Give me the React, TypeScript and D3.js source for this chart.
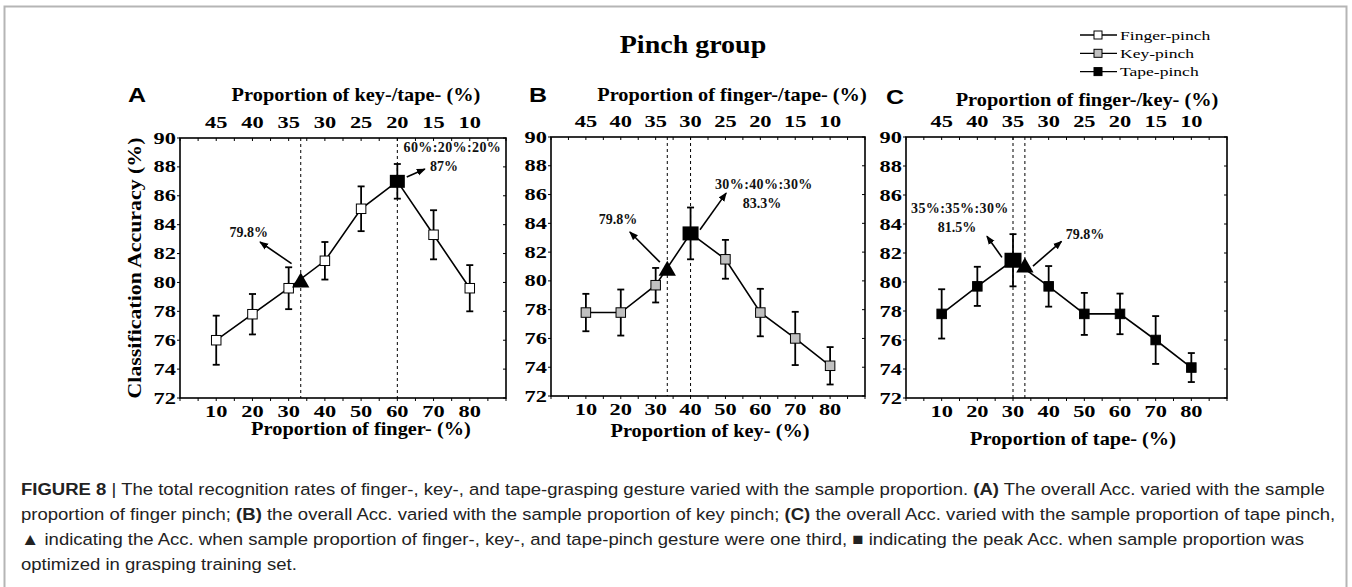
import * as d3 from "d3";

// x positions (proportion of the varied gesture, %)
const proportions = [10, 20, 30, 40, 50, 60, 70, 80];
// top axis: proportion of each of the other two gestures
const topTickLabels = ["45", "40", "35", "30", "25", "20", "15", "10"];
const yTicks = [72, 74, 76, 78, 80, 82, 84, 86, 88, 90];
const oneThird = 100 / 3;

const seriesNames = ["Finger-pinch", "Key-pinch", "Tape-pinch"];

const fingerAcc = [76.0, 77.8, 79.6, 81.5, 85.1, 87.0, 83.3, 79.6];
const fingerErr = [1.7, 1.4, 1.45, 1.3, 1.55, 1.2, 1.7, 1.6];
const keyAcc = [77.8, 77.8, 79.7, 83.3, 81.5, 77.8, 76.0, 74.1];
const keyErr = [1.3, 1.6, 1.2, 1.8, 1.35, 1.65, 1.85, 1.3];
const tapeAcc = [77.8, 79.7, 81.5, 79.7, 77.8, 77.8, 76.0, 74.1];
const tapeErr = [1.7, 1.35, 1.8, 1.4, 1.45, 1.4, 1.65, 1.0];

// accuracy when the three gestures are one third each
const thirdAcc = [80.0, 80.7, 81.0];
const thirdLabels = ["79.8%", "79.8%", "79.8%"];
const peakRatioLabels = ["60%:20%:20%", "30%:40%:30%", "35%:35%:30%"];
const peakAccLabels = ["87%", "83.3%", "81.5%"];

const SERIF = "'Liberation Serif', 'DejaVu Serif', serif";
const SANS = "'Liberation Sans', Arial, sans-serif";
const FILLS = ["#ffffff", "#c0c0c0", "#000000"];

type Note = { x: number; y: number };
type Arrow = { x1: number; y1: number; x2: number; y2: number };

const panels = [
  {
    letter: "A", lx: 137, ly: 102,
    left: 180, right: 506, top: 138, bottom: 398,
    acc: fingerAcc, err: fingerErr, fill: FILLS[0], third: 0,
    topTitle: "Proportion of key-/tape- (%)", tx: 356, ty: 101,
    bottomTitle: "Proportion of finger- (%)", bx: 361, by: 435,
    yLabel: true,
    thirdNote: { x: 19.0, y: 83.5 } as Note,
    thirdArrow: { x1: 30.8, y1: 81.3, x2: 22.1, y2: 82.8 } as Arrow,
    ratioNote: { x: 75.2, y: 89.4 } as Note,
    accNote: { x: 72.9, y: 88.05 } as Note,
    peakArrow: { x1: 62.6, y1: 87.3, x2: 67.6, y2: 87.85 } as Arrow,
    peakSize: 15,
  },
  {
    letter: "B", lx: 538, ly: 102,
    left: 551, right: 865, top: 137, bottom: 396,
    acc: keyAcc, err: keyErr, fill: FILLS[1], third: 1,
    topTitle: "Proportion of finger-/tape- (%)", tx: 732, ty: 101,
    bottomTitle: "Proportion of key- (%)", bx: 710, by: 437,
    yLabel: false,
    thirdNote: { x: 19.2, y: 84.3 } as Note,
    thirdArrow: { x1: 31.2, y1: 81.3, x2: 22.6, y2: 83.4 } as Arrow,
    ratioNote: { x: 61.0, y: 86.73 } as Note,
    accNote: { x: 60.5, y: 85.41 } as Note,
    peakArrow: { x1: 42.7, y1: 83.55, x2: 50.2, y2: 86.1 } as Arrow,
    peakSize: 16,
  },
  {
    letter: "C", lx: 895, ly: 104,
    left: 906, right: 1227, top: 137, bottom: 398,
    acc: tapeAcc, err: tapeErr, fill: FILLS[2], third: 2,
    topTitle: "Proportion of finger-/key- (%)", tx: 1087, ty: 106,
    bottomTitle: "Proportion of tape- (%)", bx: 1073, by: 445,
    yLabel: false,
    thirdNote: { x: 50.2, y: 83.3 } as Note,
    thirdArrow: { x1: 35.6, y1: 81.1, x2: 43.6, y2: 82.8 } as Arrow,
    ratioNote: { x: 15.1, y: 85.1 } as Note,
    accNote: { x: 14.3, y: 83.8 } as Note,
    peakArrow: { x1: 26.9, y1: 81.7, x2: 22.7, y2: 83.15 } as Arrow,
    peakSize: 17,
  },
];

// text stretched horizontally around its anchor (the original uses wide type)
const T = ({ x, y, sx = 1, children, ...rest }: any) => (
  <text transform={`translate(${x},${y}) scale(${sx},1)`} {...rest}>
    {children}
  </text>
);

function Panel({ p }: { p: (typeof panels)[number] }) {
  const x = d3.scaleLinear().domain([0, 90]).range([p.left, p.right]);
  const y = d3.scaleLinear().domain([72, 90]).range([p.bottom, p.top]);
  const line = d3
    .line<number>()
    .x((_, i) => x(proportions[i]))
    .y((d) => y(d));
  const peak = d3.maxIndex(p.acc);
  const dashed = [oneThird, proportions[peak]];
  const minor = d3.range(0, 91, 5);
  const tri = d3.symbol(d3.symbolTriangle, 130)();
  const s = 9.5;

  return (
    <g>
      <T x={p.lx} y={p.ly} sx={1.25} fontFamily={SANS} fontWeight="bold" fontSize={20} textAnchor="middle">
        {p.letter}
      </T>
      {/* dashed guides */}
      {dashed.map((d, i) => (
        <line key={i} x1={x(d)} x2={x(d)} y1={p.top} y2={p.bottom} stroke="#000" strokeWidth={1} strokeDasharray="3,3" />
      ))}
      {/* frame */}
      <rect x={p.left} y={p.top} width={p.right - p.left} height={p.bottom - p.top} fill="none" stroke="#000" strokeWidth={1.6} />
      {minor.map((t) => (
        <g key={t}>
          <line x1={x(t)} x2={x(t)} y1={p.bottom} y2={p.bottom + 3} stroke="#000" />
          <line x1={x(t)} x2={x(t)} y1={p.top} y2={p.top + 3} stroke="#000" />
        </g>
      ))}
      {yTicks.map((t) => (
        <g key={t}>
          <line x1={p.left - 3} x2={p.left} y1={y(t)} y2={y(t)} stroke="#000" />
          <line x1={p.right - 3} x2={p.right} y1={y(t)} y2={y(t)} stroke="#000" />
          <T x={p.left - 4} y={y(t) + 5.5} sx={1.4} fontFamily={SERIF} fontWeight="bold" fontSize={16} textAnchor="end">
            {t}
          </T>
        </g>
      ))}
      {proportions.map((v, i) => (
        <g key={v}>
          <T x={x(v)} y={p.bottom + 19} sx={1.4} fontFamily={SERIF} fontWeight="bold" fontSize={16} textAnchor="middle">
            {v}
          </T>
          <T x={x(v)} y={p.top - 10} sx={1.4} fontFamily={SERIF} fontWeight="bold" fontSize={16} textAnchor="middle">
            {topTickLabels[i]}
          </T>
        </g>
      ))}
      <T x={p.tx} y={p.ty} sx={1.1} fontFamily={SERIF} fontWeight="bold" fontSize={18.5} textAnchor="middle">
        {p.topTitle}
      </T>
      <T x={p.bx} y={p.by} sx={1.1} fontFamily={SERIF} fontWeight="bold" fontSize={18.5} textAnchor="middle">
        {p.bottomTitle}
      </T>
      {p.yLabel && (
        <text
          transform={`translate(141,${(p.top + p.bottom) / 2}) rotate(-90) scale(1.15,1)`}
          fontFamily={SERIF}
          fontWeight="bold"
          fontSize={19}
          textAnchor="middle"
        >
          Classification Accuracy (%)
        </text>
      )}
      {/* series */}
      <path d={line(p.acc) || ""} fill="none" stroke="#000" strokeWidth={1.6} />
      {p.acc.map((d, i) => (
        <g key={i} stroke="#000" strokeWidth={1.8}>
          <line x1={x(proportions[i])} x2={x(proportions[i])} y1={y(d - p.err[i])} y2={y(d + p.err[i])} />
          <line x1={x(proportions[i]) - 3.5} x2={x(proportions[i]) + 3.5} y1={y(d - p.err[i])} y2={y(d - p.err[i])} />
          <line x1={x(proportions[i]) - 3.5} x2={x(proportions[i]) + 3.5} y1={y(d + p.err[i])} y2={y(d + p.err[i])} />
        </g>
      ))}
      {p.acc.map((d, i) =>
        i === peak ? null : (
          <rect key={i} x={x(proportions[i]) - s / 2} y={y(d) - s / 2} width={s} height={s} fill={p.fill} stroke="#000" strokeWidth={1} />
        )
      )}
      <rect
        x={x(proportions[peak]) - p.peakSize / 2}
        y={y(p.acc[peak]) - (p.peakSize - 2) / 2}
        width={p.peakSize}
        height={p.peakSize - 2}
        fill="#000"
      />
      <path d={tri || ""} transform={`translate(${x(oneThird)},${y(thirdAcc[p.third])})`} fill="#000" />
      {/* annotations */}
      <g fontFamily={SERIF} fontWeight="bold" fontSize={14} textAnchor="middle" fill="#111">
        <text x={x(p.thirdNote.x)} y={y(p.thirdNote.y) + 5}>{thirdLabels[p.third]}</text>
        <text x={x(p.ratioNote.x)} y={y(p.ratioNote.y) + 5} letterSpacing={0.4}>{peakRatioLabels[p.third]}</text>
        <text x={x(p.accNote.x)} y={y(p.accNote.y) + 5}>{peakAccLabels[p.third]}</text>
      </g>
      {[p.thirdArrow, p.peakArrow].map((a, i) => (
        <line key={i} x1={x(a.x1)} y1={y(a.y1)} x2={x(a.x2)} y2={y(a.y2)} stroke="#000" strokeWidth={1.6} markerEnd="url(#arrowHead)" />
      ))}
    </g>
  );
}

const captionLines: { t: string; b?: boolean }[][] = [
  [
    { t: "FIGURE 8", b: true },
    { t: " | The total recognition rates of finger-, key-, and tape-grasping gesture varied with the sample proportion. " },
    { t: "(A)", b: true },
    { t: " The overall Acc. varied with the sample" },
  ],
  [
    { t: "proportion of finger pinch; " },
    { t: "(B)", b: true },
    { t: " the overall Acc. varied with the sample proportion of key pinch; " },
    { t: "(C)", b: true },
    { t: " the overall Acc. varied with the sample proportion of tape pinch," },
  ],
  [
    { t: "\u25B2 indicating the Acc. when sample proportion of finger-, key-, and tape-pinch gesture were one third, \u25A0 indicating the peak Acc. when sample proportion was" },
  ],
  [{ t: "optimized in grasping training set." }],
];

export default function App() {
  return (
    <svg width={1352} height={587} style={{ position: "absolute", left: 0, top: 0, background: "#fff" }}>
      <defs>
        <marker id="arrowHead" markerUnits="userSpaceOnUse" markerWidth={9} markerHeight={8} refX={8} refY={4} orient="auto">
          <path d="M0,0.5 L9,4 L0,7.5 Z" fill="#000" />
        </marker>
      </defs>
      <rect x={4.5} y={6.5} width={1342} height={600} fill="none" stroke="#b5b5b5" strokeWidth={2} />
      <T x={693} y={53} sx={1.12} fontFamily={SERIF} fontWeight="bold" fontSize={25} textAnchor="middle">
        Pinch group
      </T>
      {/* legend */}
      {seriesNames.map((n, i) => (
        <g key={n} transform={`translate(0,${35 + i * 18.3})`}>
          <line x1={1080} x2={1117} y1={0} y2={0} stroke="#000" strokeWidth={1.3} />
          <rect x={1094} y={-4} width={8} height={8} fill={FILLS[i]} stroke="#000" strokeWidth={1} />
          <T x={1120} y={4.5} sx={1.35} fontFamily={SERIF} fontSize={13}>
            {n}
          </T>
        </g>
      ))}
      {panels.map((p) => (
        <Panel key={p.letter} p={p} />
      ))}
      <g fontFamily={SANS} fontSize={17} fill="#222">
        {captionLines.map((ln, i) => (
          <text key={i} transform={`translate(21,${495 + i * 25}) scale(1.09,1)`}>
            {ln.map((s, j) => (
              <tspan key={j} fontWeight={s.b ? "bold" : "normal"}>
                {s.t}
              </tspan>
            ))}
          </text>
        ))}
      </g>
    </svg>
  );
}
